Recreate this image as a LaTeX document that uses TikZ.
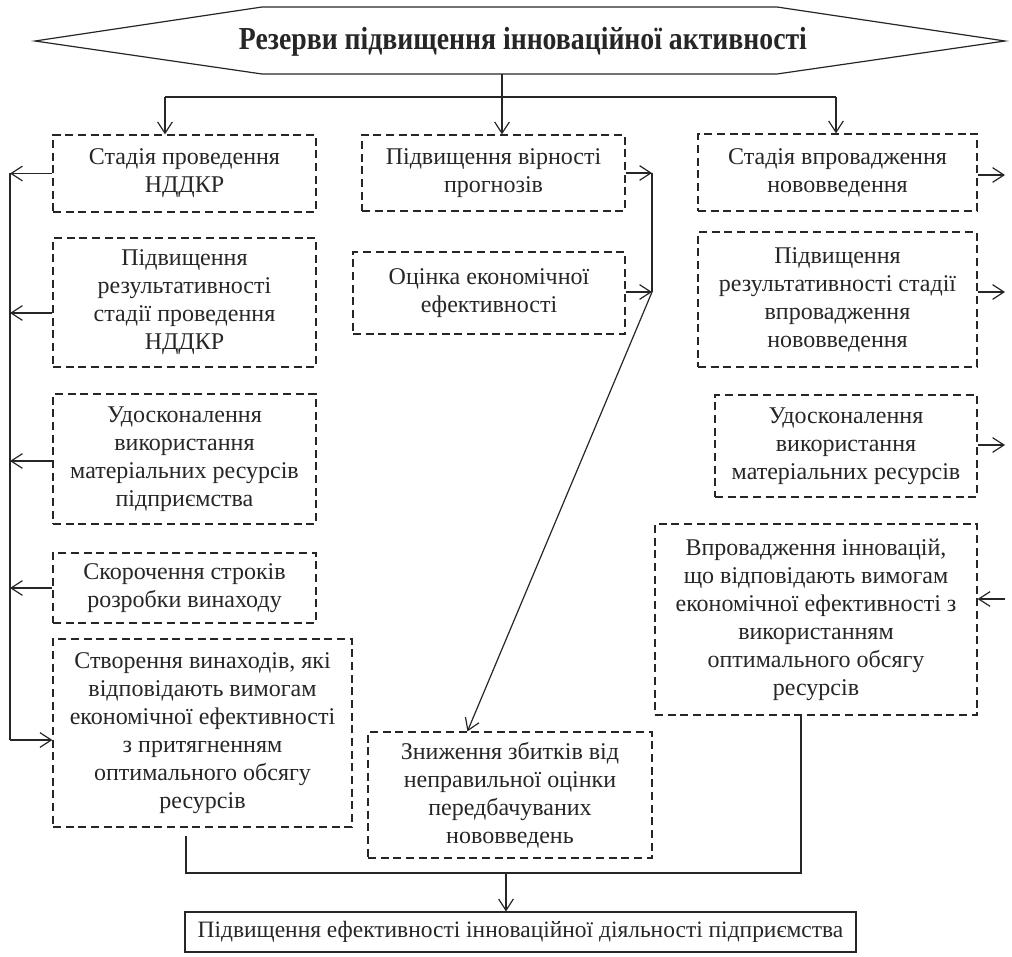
\documentclass[tikz,border=0pt]{standalone}
\usepackage{fontspec}
\usepackage{graphicx}
\setmainfont{Liberation Serif}
\usetikzlibrary{arrows.meta,calc}
\begin{document}
\begin{tikzpicture}[x=0.75pt,y=-0.75pt,
  box/.style={draw=black!85, dash pattern=on 6pt off 3.5pt, line width=0.9pt, align=center,
    inner sep=0pt, font=\fontsize{18}{21}\selectfont, text=black!85},
  wh/.style 2 args={minimum width=#1*0.75pt, minimum height=#2*0.75pt},
  conn/.style={draw=black!85, line width=0.9pt},
  arr/.style={conn, -{Straight Barb[length=8.5pt,width=11pt,line width=0.9pt]}}]
\useasboundingbox (0,0) rectangle (1012,956);

% title hexagon
\draw[conn] (35,41) -- (262,7) -- (777,7) -- (1005,41) -- (777,74) -- (262,74) -- cycle;
\node[font=\bfseries\fontsize{24}{26}\selectfont, text=black!85, inner sep=0pt] (T) at (523,42)
  {\resizebox{426pt}{\height}{Резерви підвищення інноваційної активності}};

% left column
\node[box, wh={263}{77}]  (L1) at (184.5,173.5) {Стадія проведення\\НДДКР};
\node[box, wh={263}{129}] (L2) at (184.5,302.5) {Підвищення\\результативності\\стадії проведення\\НДДКР};
\node[box, wh={263}{130}] (L3) at (184.5,459) {Удосконалення\\використання\\матеріальних ресурсів\\підприємства};
\node[box, wh={263}{70}]  (L4) at (184.5,588) {Скорочення строків\\розробки винаходу};
\node[box, wh={299}{188}] (L5) at (202.5,733) {Створення винаходів, які\\відповідають вимогам\\економічної ефективності\\з притягненням\\оптимального обсягу\\ресурсів};

% middle column
\node[box, wh={263}{76}]  (M1) at (493.5,173) {Підвищення вірності\\прогнозів};
\node[box, wh={272}{82}]  (M2) at (489,293) {Оцінка економічної\\ефективності};
\node[box, wh={284}{126}] (M3) at (510,795) {Зниження збитків від\\неправильної оцінки\\передбачуваних\\нововведень};

% right column
\node[box, wh={279}{77}]  (R1) at (837.5,172.5) {Стадія впровадження\\нововведення};
\node[box, wh={279}{135}] (R2) at (837.5,299.5) {Підвищення\\результативності стадії\\впровадження\\нововведення};
\node[box, wh={262}{102}] (R3) at (846,446) {Удосконалення\\використання\\матеріальних ресурсів};
\node[box, wh={322}{191}] (R4) at (816,619.5) {Впровадження інновацій,\\що відповідають вимогам\\економічної ефективності з\\використанням\\оптимального обсягу\\ресурсів};

% final box
\node[draw=black!85, line width=0.8pt, wh={671}{40}, inner sep=0pt, font=\fontsize{17.6}{20}\selectfont, text=black!85] (F) at (520.5,932)
  {Підвищення ефективності інноваційної діяльності підприємства};

% top branching
\coordinate (hb) at (502,74);
\coordinate (bl) at (165,97);
\coordinate (bm) at (502,97);
\coordinate (br) at (836,97);
\draw[conn] (hb) -- (bm);
\draw[conn] (bl) -- (br);
\draw[arr] (bl) -- (bl |- L1.north);
\draw[arr] (bm) -- (bm |- M1.north);
\draw[arr] (br) -- (br |- R1.north);

% left collector
\coordinate (lt) at (10,173);
\coordinate (lb) at (10,740);
\draw[conn] (lt) -- (lb);
\draw[arr] (L1.west) -- (L1.west -| lt);
\draw[arr] ($(L2.west)+(0,10.5)$) -- ($(L2.west -| lt)+(0,10.5)$);
\draw[arr] ($(L3.west)+(0,2)$) -- ($(L3.west -| lt)+(0,2)$);
\draw[arr] (L4.west) -- (L4.west -| lt);
\draw[arr] (lb) -- (lb -| L5.west);

% middle collector
\coordinate (mt) at (652,173);
\coordinate (mb) at (652,292);
\draw[arr] (M1.east) -- (M1.east -| mt);
\draw[arr] (M2.east |- mb) -- (mb);
\draw[conn] (mt) -- (mb);
\draw[arr] (mb) -- ($(M3.north west)+(100,0)$);

% right stubs
\coordinate (rx) at (1005,0);
\draw[arr] ($(R1.east)+(0,2.5)$) -- ($(R1.east -| rx)+(0,2.5)$);
\draw[arr] ($(R2.east)+(0,-7.5)$) -- ($(R2.east -| rx)+(0,-7.5)$);
\draw[arr] ($(R3.east)+(0,-1)$) -- ($(R3.east -| rx)+(0,-1)$);
\draw[arr] ($(R4.east -| rx)+(0,-20.5)$) -- ($(R4.east)+(0,-20.5)$);

% bottom collector
\coordinate (bbl) at (186,873);
\coordinate (bbr) at (801,873);
\coordinate (bbm) at (506,873);
\draw[conn] ($(L5.south -| bbl)+(0,8)$) -- (bbl) -- (bbr) -- (bbr |- R4.south);
\draw[arr] (bbm) -- (bbm |- F.north);
\end{tikzpicture}
\end{document}
